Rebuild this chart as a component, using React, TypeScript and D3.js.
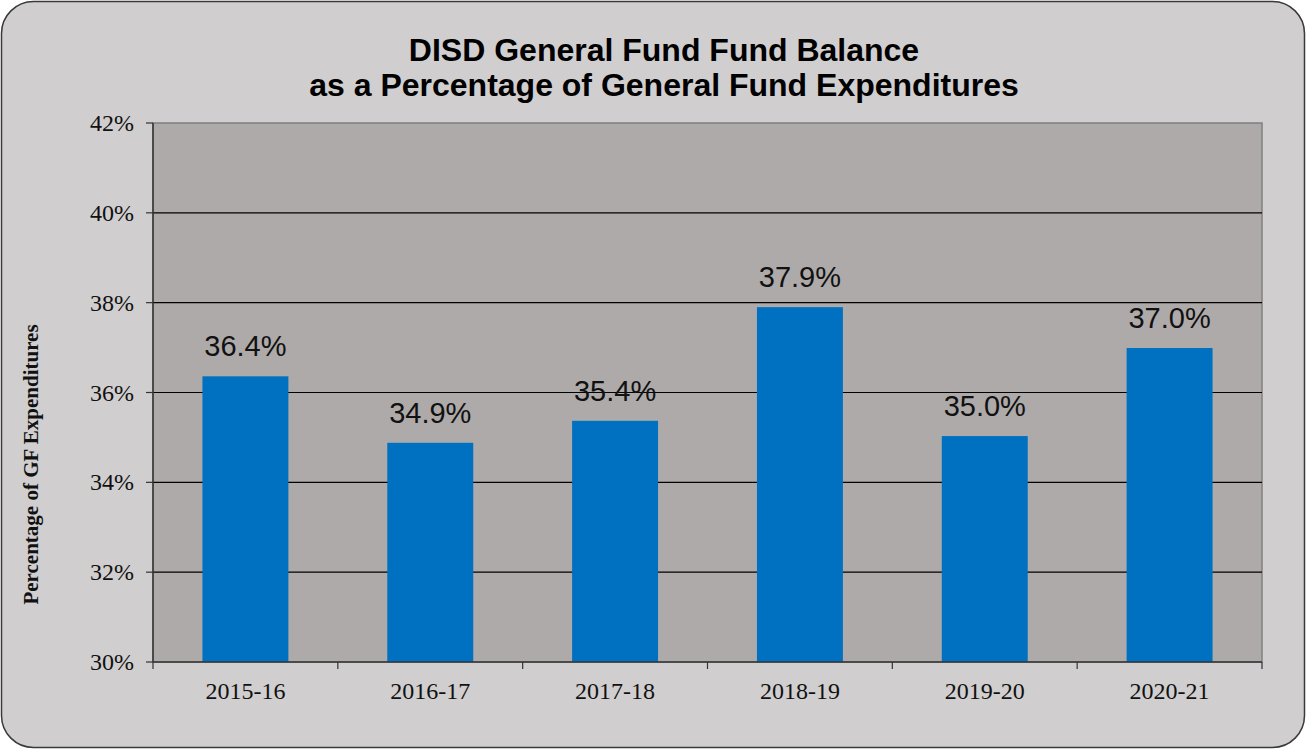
import * as d3 from 'd3'

const categories = ['2015-16', '2016-17', '2017-18', '2018-19', '2019-20', '2020-21']
const values = [36.36, 34.88, 35.37, 37.9, 35.03, 36.99]
const yTicks = [30, 32, 34, 36, 38, 40, 42]

const W = 1307
const H = 750
const plot = { left: 153, right: 1262, top: 123, bottom: 662 }

export default function App() {
  const x = d3
    .scaleBand<string>()
    .domain(categories)
    .range([plot.left, plot.right])
    .paddingInner(0.535)
    .paddingOuter(0.2675)
  const y = d3.scaleLinear().domain([30, 42]).range([plot.bottom, plot.top])
  const step = x.step()
  const bounds = d3.range(categories.length + 1).map((i) => plot.left + i * step)

  return (
    <svg width={W} height={H} style={{ position: 'absolute', left: 0, top: 0 }}>
      <rect x={1.5} y={1.5} width={W - 4} height={H - 4} rx={32} fill="#d0cecf" stroke="#3a3a3a" strokeWidth={1.5} />
      <text x={664} y={61} textAnchor="middle" fontFamily="Liberation Sans, Arial, sans-serif" fontWeight="bold" fontSize={32} fill="#000">
        DISD General Fund Fund Balance
      </text>
      <text x={664} y={96} textAnchor="middle" fontFamily="Liberation Sans, Arial, sans-serif" fontWeight="bold" fontSize={32} fill="#000">
        as a Percentage of General Fund Expenditures
      </text>

      <rect x={plot.left} y={plot.top} width={plot.right - plot.left} height={plot.bottom - plot.top} fill="#aeaaa9" stroke="#808080" strokeWidth={1.5} />

      {yTicks.slice(1, -1).map((t) => (
        <line key={t} x1={plot.left} x2={plot.right} y1={y(t)} y2={y(t)} stroke="#000" strokeWidth={1.2} />
      ))}

      {values.map((v, i) => (
        <g key={categories[i]}>
          <rect x={x(categories[i])} y={y(v)} width={x.bandwidth()} height={plot.bottom - y(v)} fill="#0070c0" />
          <text
            x={(x(categories[i]) ?? 0) + x.bandwidth() / 2}
            y={y(v) - 20}
            textAnchor="middle"
            fontFamily="Liberation Sans, Arial, sans-serif"
            fontSize={29}
            fill="#111"
          >
            {v.toFixed(1)}%
          </text>
        </g>
      ))}

      {/* y axis */}
      <line x1={plot.left} x2={plot.left} y1={plot.top} y2={plot.bottom} stroke="#333" strokeWidth={1.5} />
      {yTicks.map((t) => (
        <g key={t}>
          <line x1={plot.left - 7} x2={plot.left} y1={y(t)} y2={y(t)} stroke="#333" strokeWidth={1.2} />
          <text x={plot.left - 19} y={y(t) + 8} textAnchor="end" fontFamily="Liberation Serif, Times New Roman, serif" fontSize={24} fill="#111">
            {t}%
          </text>
        </g>
      ))}

      {/* x axis */}
      <line x1={plot.left} x2={plot.right} y1={plot.bottom} y2={plot.bottom} stroke="#333" strokeWidth={1.5} />
      {bounds.map((b) => (
        <line key={b} x1={b} x2={b} y1={plot.bottom} y2={plot.bottom + 7} stroke="#333" strokeWidth={1.2} />
      ))}
      {categories.map((c) => (
        <text
          key={c}
          x={(x(c) ?? 0) + x.bandwidth() / 2}
          y={plot.bottom + 37}
          textAnchor="middle"
          fontFamily="Liberation Serif, Times New Roman, serif"
          fontSize={24}
          fill="#111"
        >
          {c}
        </text>
      ))}

      <text
        transform={`translate(38, ${(plot.top + plot.bottom) / 2 + 72}) rotate(-90)`}
        textAnchor="middle"
        fontFamily="Liberation Serif, Times New Roman, serif"
        fontWeight="bold"
        fontSize={21}
        fill="#111"
      >
        Percentage  of GF Expenditures
      </text>
    </svg>
  )
}
